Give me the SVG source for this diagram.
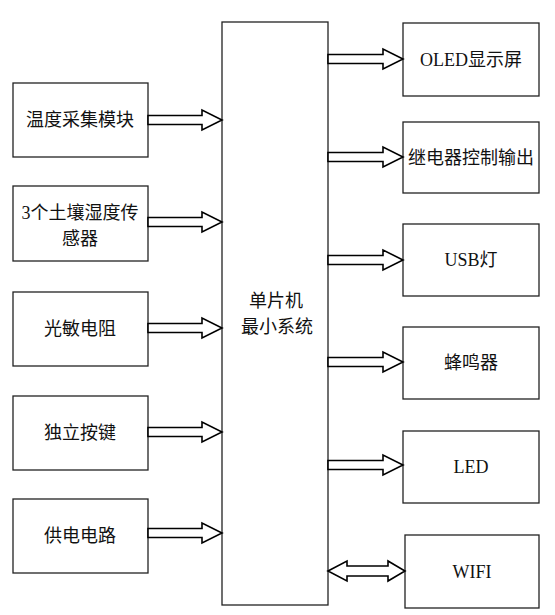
<svg xmlns="http://www.w3.org/2000/svg" width="555" height="615" viewBox="0 0 555 615">
<style>
.box{fill:#fff;stroke:#222;stroke-width:1.3}
.t{font-family:"Liberation Serif","Noto Sans CJK SC",serif;font-size:18px;fill:#111;text-anchor:middle}
.ar{fill:#fff;stroke:#000;stroke-width:1.6;stroke-linejoin:miter}
</style>
<rect width="555" height="615" fill="#fff"/>
<g id="mcu"><rect class="box" x="222" y="22" width="106" height="583"/>
<text class="t" x="276" y="307">单片机</text><text class="t" x="277" y="333">最小系统</text></g>
<g id="temp"><rect class="box" x="13" y="83" width="135" height="74"/><text class="t" x="80" y="126">温度采集模块</text></g>
<g id="soil"><rect class="box" x="13" y="186" width="135" height="75"/><text class="t" x="80" y="219">3个土壤湿度传</text><text class="t" x="80" y="245">感器</text></g>
<g id="ldr"><rect class="box" x="13" y="292" width="135" height="74"/><text class="t" x="80" y="335">光敏电阻</text></g>
<g id="key"><rect class="box" x="13" y="396" width="135" height="74"/><text class="t" x="80" y="439">独立按键</text></g>
<g id="power"><rect class="box" x="13" y="499" width="135" height="74"/><text class="t" x="80" y="542">供电电路</text></g>
<g id="oled"><rect class="box" x="403" y="23" width="136" height="73"/><text class="t" x="471" y="66">OLED显示屏</text></g>
<g id="relay"><rect class="box" x="403" y="122" width="136" height="71"/><text class="t" x="471" y="164">继电器控制输出</text></g>
<g id="usb"><rect class="box" x="403" y="224" width="136" height="72"/><text class="t" x="471" y="266">USB灯</text></g>
<g id="buzzer"><rect class="box" x="403" y="327" width="136" height="72"/><text class="t" x="471" y="369">蜂鸣器</text></g>
<g id="led"><rect class="box" x="403" y="431" width="136" height="72"/><text class="t" x="471" y="473">LED</text></g>
<g id="wifi"><rect class="box" x="405" y="535" width="134" height="73"/><text class="t" x="472" y="578">WIFI</text></g>
<g id="connectors">
<path class="ar" d="M148,115.5 H202 V110 L222,120 L202,130 V124.5 H148 Z"/>
<path class="ar" d="M148,217.5 H202 V212 L222,222 L202,232 V226.5 H148 Z"/>
<path class="ar" d="M148,323.5 H202 V318 L222,328 L202,338 V332.5 H148 Z"/>
<path class="ar" d="M148,427.5 H202 V422 L222,432 L202,442 V436.5 H148 Z"/>
<path class="ar" d="M148,528.5 H202 V523 L222,533 L202,543 V537.5 H148 Z"/>
<path class="ar" d="M328,54.5 H383 V49 L403,59 L383,69 V63.5 H328 Z"/>
<path class="ar" d="M328,152.5 H383 V147 L403,157 L383,167 V161.5 H328 Z"/>
<path class="ar" d="M328,255.5 H383 V250 L403,260 L383,270 V264.5 H328 Z"/>
<path class="ar" d="M328,357.5 H383 V352 L403,362 L383,372 V366.5 H328 Z"/>
<path class="ar" d="M328,460.5 H383 V455 L403,465 L383,475 V469.5 H328 Z"/>
<path class="ar" d="M328,571 L347,561 V566 H388 V561 L405,571 L388,581 V576 H347 V581 Z"/>
</g>
</svg>
